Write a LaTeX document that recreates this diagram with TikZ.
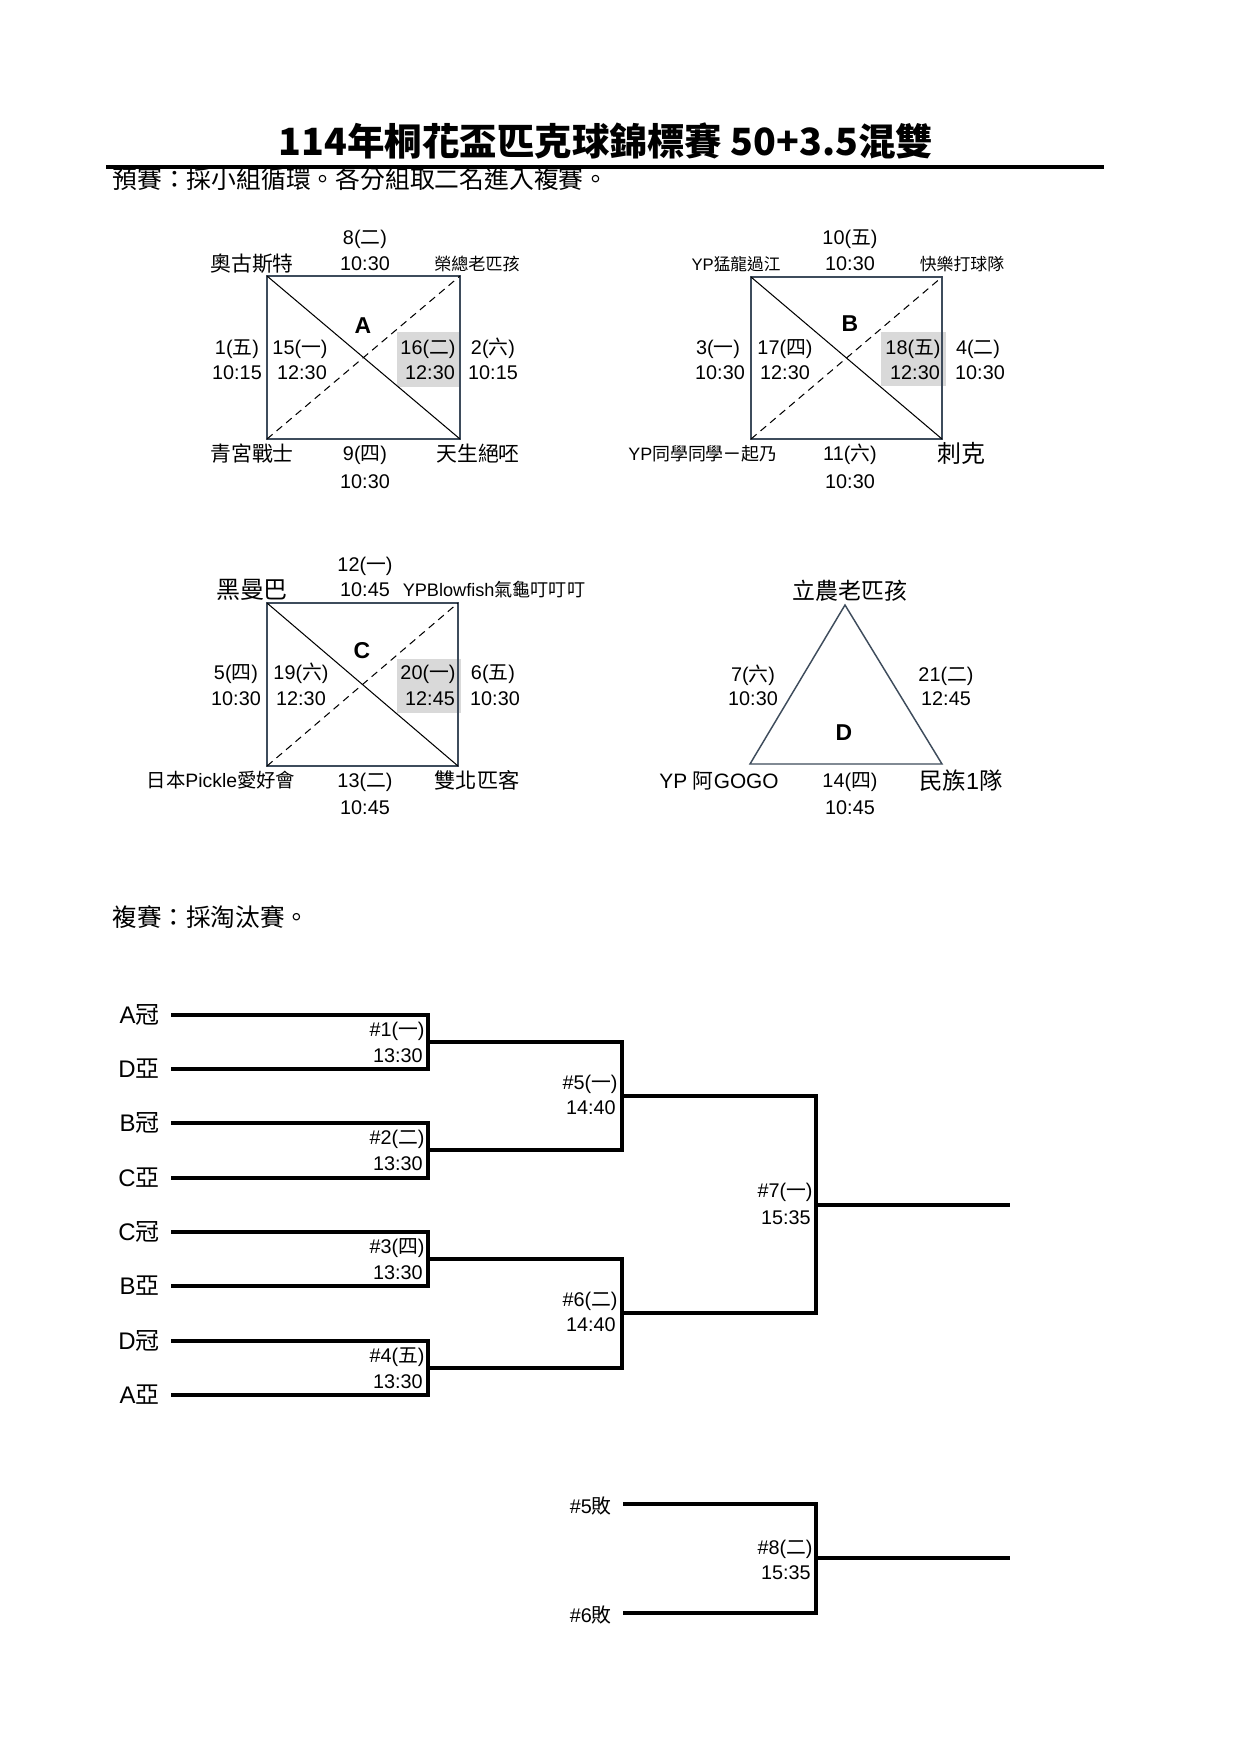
\documentclass[tikz,border=0pt]{standalone}
\usepackage{fontspec}
\setmainfont{Liberation Sans}
\newfontfamily\cjk{Noto Sans CJK TC}
\newcommand\C[1]{{\cjk #1}}
\definecolor{boxcol}{RGB}{62,76,92}
\definecolor{hlgray}{RGB}{217,217,217}
\tikzset{
  num/.style={anchor=base, inner sep=0pt, font=\fontsize{9.5}{11}\selectfont},
  team/.style={anchor=base, inner sep=0pt, font=\fontsize{#1}{12}\selectfont},
  team/.default=10,
  grp/.style={anchor=base, inner sep=0pt, font=\fontsize{11}{13}\selectfont\bfseries},
  seed/.style={anchor=base east, inner sep=0pt, font=\fontsize{11.5}{13}\selectfont},
  mlab/.style={anchor=base east, inner sep=0pt, font=\fontsize{9.5}{11}\selectfont},
  boxline/.style={draw=boxcol, line width=0.7pt},
  diag/.style={line width=0.5pt},
  dashdiag/.style={line width=0.5pt, dash pattern=on 3.5pt off 2.5pt},
  hl/.style={fill=hlgray},
  bline/.style={line width=1.5pt, line join=miter}
}
\begin{document}
\begin{tikzpicture}[x=0.47968pt, y=-0.47968pt]
\useasboundingbox[fill=white] (0,0) rectangle (1241,1755);

% ---------- title ----------
\node[anchor=base, inner sep=0pt, font=\cjk\bfseries\fontsize{18}{20}\selectfont] (title) at (606,155) {114年桐花盃匹克球錦標賽 50+3.5混雙};
\node[anchor=base west, inner sep=0pt, font=\cjk\fontsize{11.9}{14}\selectfont] (sub1) at (112,188) {預賽：採小組循環。各分組取二名進入複賽。};
\coordinate (tl1) at (106,167);
\coordinate (tl2) at (1104,167);
\draw[line width=1.9pt] (tl1) -- (tl2);

% ---------- group A ----------
\fill[hl] (397,332) rectangle (459,387);
\coordinate (Anw) at (267,276);
\coordinate (Ase) at (460,439);
\draw[boxline] (Anw) rectangle (Ase);
\draw[diag] (Anw) -- (Ase);
\draw[dashdiag] (Anw |- Ase) -- (Anw -| Ase);
\node[team] (At1) at (252,271) {\C{奧古斯特}};
\node[num] (A8a) at (365,244) {8(\C{二})};
\node[num] (A8b) at (365,270) {10:30};
\node[team=8.2] (At2) at (477,270) {\C{榮總老匹孩}};
\node[num] (A1a) at (237,354) {1(\C{五})};
\node[num] (A1b) at (237,379) {10:15};
\node[num] (A15a) at (300,354) {15(\C{一})};
\node[num] (A15b) at (302,379) {12:30};
\node[num] (A16a) at (428,354) {16(\C{二})};
\node[num] (A16b) at (430,379) {12:30};
\node[num] (A2a) at (493,354) {2(\C{六})};
\node[num] (A2b) at (493,379) {10:15};
\node[grp] (Alab) at (363,333) {A};
\node[team] (At3) at (252,461) {\C{青宮戰士}};
\node[num] (A9a) at (365,460) {9(\C{四})};
\node[num] (A9b) at (365,488) {10:30};
\node[team] (At4) at (478,461) {\C{天生絕呸}};

% ---------- group B ----------
\fill[hl] (881,332) rectangle (946,386);
\coordinate (Bnw) at (751,277);
\coordinate (Bse) at (942,439);
\draw[boxline] (Bnw) rectangle (Bse);
\draw[diag] (Bnw) -- (Bse);
\draw[dashdiag] (Bnw |- Bse) -- (Bnw -| Bse);
\node[team=8] (Bt1) at (736,270) {YP\C{猛龍過江}};
\node[num] (B10a) at (850,244) {10(\C{五})};
\node[num] (B10b) at (850,270) {10:30};
\node[team=8.1] (Bt2) at (962,270) {\C{快樂打球隊}};
\node[grp] (Blab) at (850,331) {B};
\node[num] (B3a) at (718,354) {3(\C{一})};
\node[num] (B3b) at (720,379) {10:30};
\node[num] (B17a) at (785,354) {17(\C{四})};
\node[num] (B17b) at (785,379) {12:30};
\node[num] (B18a) at (913,354) {18(\C{五})};
\node[num] (B18b) at (915,379) {12:30};
\node[num] (B4a) at (978,354) {4(\C{二})};
\node[num] (B4b) at (980,379) {10:30};
\node[team=8.6] (Bt3) at (703,460) {YP\C{同學同學ㄧ起乃}};
\node[num] (B11a) at (850,460) {11(\C{六})};
\node[num] (B11b) at (850,488) {10:30};
\node[team=11.5] (Bt4) at (961,462) {\C{刺克}};

% ---------- group C ----------
\fill[hl] (397,659) rectangle (461,713);
\coordinate (Cnw) at (267,603);
\coordinate (Cse) at (458,766);
\draw[boxline] (Cnw) rectangle (Cse);
\draw[diag] (Cnw) -- (Cse);
\draw[dashdiag] (Cnw |- Cse) -- (Cnw -| Cse);
\node[team=11.5] (Ct1) at (252,598) {\C{黑曼巴}};
\node[num] (C12a) at (365,571) {12(\C{一})};
\node[num] (C12b) at (365,596) {10:45};
\node[team=8.7] (Ct2) at (494,596) {YPBlowfish\C{氣龜叮叮叮}};
\node[grp] (Clab) at (362,658) {C};
\node[num] (C5a) at (236,679) {5(\C{四})};
\node[num] (C5b) at (236,705) {10:30};
\node[num] (C19a) at (301,679) {19(\C{六})};
\node[num] (C19b) at (301,705) {12:30};
\node[num] (C20a) at (428,679) {20(\C{一})};
\node[num] (C20b) at (430,705) {12:45};
\node[num] (C6a) at (493,679) {6(\C{五})};
\node[num] (C6b) at (495,705) {10:30};
\node[team=9.3] (Ct3) at (221,787) {\C{日本}Pickle\C{愛好會}};
\node[num] (C13a) at (365,787) {13(\C{二})};
\node[num] (C13b) at (365,814) {10:45};
\node[team=10.2] (Ct4) at (477,788) {\C{雙北匹客}};

% ---------- group D ----------
\coordinate (Dtop) at (845,605);
\coordinate (Dbl) at (750,764);
\coordinate (Dbr) at (942,764);
\draw[boxline] (Dtop) -- (Dbl) -- (Dbr) -- cycle;
\node[team=11] (Dt1) at (850,599) {\C{立農老匹孩}};
\node[num] (D7a) at (753,681) {7(\C{六})};
\node[num] (D7b) at (753,705) {10:30};
\node[num] (D21a) at (946,681) {21(\C{二})};
\node[num] (D21b) at (946,705) {12:45};
\node[grp] (Dlab) at (844,740) {D};
\node[team=10] (Dt2) at (719,788) {YP \C{阿}GOGO};
\node[num] (D14a) at (850,787) {14(\C{四})};
\node[num] (D14b) at (850,814) {10:45};
\node[team=11.2] (Dt3) at (961,789) {\C{民族}1\C{隊}};

% ---------- knockout ----------
\node[anchor=base west, inner sep=0pt, font=\cjk\fontsize{11.8}{14}\selectfont] (sub2) at (112,926) {複賽：採淘汰賽。};

\node[seed] (s1) at (160,1023) {A\C{冠}};
\node[seed] (s2) at (160,1077) {D\C{亞}};
\node[seed] (s3) at (160,1131) {B\C{冠}};
\node[seed] (s4) at (160,1186) {C\C{亞}};
\node[seed] (s5) at (160,1240) {C\C{冠}};
\node[seed] (s6) at (160,1294) {B\C{亞}};
\node[seed] (s7) at (160,1349) {D\C{冠}};
\node[seed] (s8) at (160,1403) {A\C{亞}};

\coordinate (p1) at (171,1015);
\coordinate (p2) at (171,1069);
\coordinate (p3) at (171,1123);
\coordinate (p4) at (171,1178);
\coordinate (p5) at (171,1232);
\coordinate (p6) at (171,1286);
\coordinate (p7) at (171,1341);
\coordinate (p8) at (171,1395);

\coordinate (m1) at (428,1042);
\coordinate (m2) at (428,1150);
\coordinate (m3) at (428,1259);
\coordinate (m4) at (428,1368);
\coordinate (m5) at (622,1096);
\coordinate (m6) at (622,1313);
\coordinate (m7) at (816,1205);
\coordinate (champ) at (1010,1205);

\draw[bline] (p1) -- (p1 -| m1) -- (p2 -| m1) -- (p2);
\draw[bline] (p3) -- (p3 -| m2) -- (p4 -| m2) -- (p4);
\draw[bline] (p5) -- (p5 -| m3) -- (p6 -| m3) -- (p6);
\draw[bline] (p7) -- (p7 -| m4) -- (p8 -| m4) -- (p8);
\draw[bline] (m1) -- (m1 -| m5) -- (m2 -| m5) -- (m2);
\draw[bline] (m3) -- (m3 -| m6) -- (m4 -| m6) -- (m4);
\draw[bline] (m5) -- (m5 -| m7) -- (m6 -| m7) -- (m6);
\draw[bline] (m7) -- (champ);

\node[mlab] (g1a) at (425,1036) {\#1(\C{一})};
\node[mlab] (g1b) at (423,1062) {13:30};
\node[mlab] (g2a) at (425,1144) {\#2(\C{二})};
\node[mlab] (g2b) at (423,1170) {13:30};
\node[mlab] (g3a) at (425,1253) {\#3(\C{四})};
\node[mlab] (g3b) at (423,1279) {13:30};
\node[mlab] (g4a) at (425,1362) {\#4(\C{五})};
\node[mlab] (g4b) at (423,1388) {13:30};
\node[mlab] (g5a) at (618,1089) {\#5(\C{一})};
\node[mlab] (g5b) at (616,1114) {14:40};
\node[mlab] (g6a) at (618,1306) {\#6(\C{二})};
\node[mlab] (g6b) at (616,1331) {14:40};
\node[mlab] (g7a) at (813,1197) {\#7(\C{一})};
\node[mlab] (g7b) at (811,1224) {15:35};

% consolation
\node[mlab] (l5) at (612,1513) {\#5\C{敗}};
\node[mlab] (l6) at (612,1622) {\#6\C{敗}};
\coordinate (q1) at (623,1504);
\coordinate (q2) at (623,1613);
\coordinate (m8) at (816,1558);
\coordinate (third) at (1010,1558);
\draw[bline] (q1) -- (q1 -| m8) -- (q2 -| m8) -- (q2);
\draw[bline] (m8) -- (third);
\node[mlab] (g8a) at (813,1554) {\#8(\C{二})};
\node[mlab] (g8b) at (811,1579) {15:35};
\end{tikzpicture}
\end{document}
